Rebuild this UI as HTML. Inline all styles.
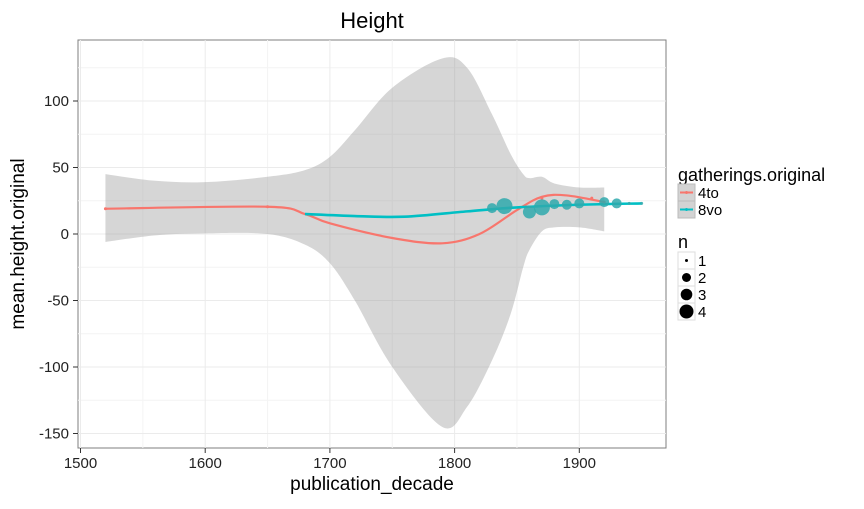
<!DOCTYPE html>
<html><head><meta charset="utf-8"><style>
body{margin:0;background:#fff;font-family:"Liberation Sans",sans-serif}
svg text{font-family:"Liberation Sans",sans-serif}
</style></head><body>
<svg id="chart" width="864" height="504">
<text x="372" y="28" font-size="22" text-anchor="middle">Height</text>
<g id="plot"></g>
<text x="372" y="490" font-size="19" text-anchor="middle">publication_decade</text>
<text transform="translate(24,244) rotate(-90)" font-size="19" text-anchor="middle">mean.height.original</text>
<g>
<text x="678" y="181" font-size="18">gatherings.original</text>
<rect x="678" y="184" width="17" height="17" fill="#d3d3d3" stroke="#bbb"/>
<line x1="680" y1="192.5" x2="693" y2="192.5" stroke="#F8766D" stroke-width="2"/><circle cx="686.5" cy="192.5" r="1.5" fill="#F8766D"/>
<text x="698" y="198" font-size="15">4to</text>
<rect x="678" y="201" width="17" height="17" fill="#d3d3d3" stroke="#bbb"/>
<line x1="680" y1="209.5" x2="693" y2="209.5" stroke="#00BFC4" stroke-width="2"/><circle cx="686.5" cy="209.5" r="1.5" fill="#00BFC4"/>
<text x="698" y="215" font-size="15">8vo</text>
</g>
<g>
<text x="678" y="248" font-size="18">n</text>
<rect x="678" y="252" width="17" height="17" fill="#fff" stroke="#ddd"/><circle cx="686.5" cy="260.5" r="1.5" fill="#000"/>
<text x="698" y="266" font-size="15">1</text>
<rect x="678" y="269" width="17" height="17" fill="#fff" stroke="#ddd"/><circle cx="686.5" cy="277.5" r="4.5" fill="#000"/>
<text x="698" y="283" font-size="15">2</text>
<rect x="678" y="286" width="17" height="17" fill="#fff" stroke="#ddd"/><circle cx="686.5" cy="294.5" r="5.8" fill="#000"/>
<text x="698" y="300" font-size="15">3</text>
<rect x="678" y="303" width="17" height="17" fill="#fff" stroke="#ddd"/><circle cx="686.5" cy="311.5" r="7" fill="#000"/>
<text x="698" y="317" font-size="15">4</text>
</g>
</svg>
<script>
const xTicks=[1500,1600,1700,1800,1900];
const yTicks=[100,50,0,-50,-100,-150];
const ribbonX=[1520,1560,1600,1650,1680,1700,1720,1750,1790,1810,1830,1845,1855,1860,1870,1880,1900,1920];
const ribbonUpper=[45,40,39,43,48,58,78,110,132,125,90,60,45,42,43,38,35,35];
const ribbonLower=[-6,-1,0.5,0,-8,-22,-50,-100,-145,-130,-95,-60,-25,-12,2,5,5,2];
const redX=[1520,1650,1680,1700,1750,1790,1820,1850,1870,1890,1920];
const redY=[19,20.5,15,8,-3,-7,0,18,28,29,24];
const tealLineX=[1680,1720,1760,1810,1850,1900,1950];
const tealLineY=[15,13.5,13,17,20,22,23];
const tealPtX=[1830,1840,1860,1870,1880,1890,1900,1920,1930,1940,1950];
const tealPtY=[19.5,21,16.5,20,22.5,22,23,24,23,23,23];
const tealPtN=[2,4,3,4,2,2,2,2,2,1,1];
const redPtX=[1520,1650,1870,1910,1920];
const redPtY=[19,20.5,27,27,24];
const X0=78,X1=666,Y0=40,Y1=448;
const sx=v=>80.5+(v-1500)*1.247;
const sy=v=>234-v*1.33;
const rad=n=>[0,1.5,5,6.5,8][n];
const NS="http://www.w3.org/2000/svg";
const g=document.getElementById('plot');
function el(t,a,p){const e=document.createElementNS(NS,t);for(const k in a)e.setAttribute(k,a[k]);(p||g).appendChild(e);return e;}
function spline(xs,ys){let p=[];for(let i=0;i<xs.length;i++)p.push([sx(xs[i]),sy(ys[i])]);
 let d='M'+p[0][0]+','+p[0][1];
 for(let i=0;i<p.length-1;i++){const a=p[i-1]||p[i],b=p[i],c=p[i+1],e=p[i+2]||c;
  d+=' C'+(b[0]+(c[0]-a[0])/6)+','+(b[1]+(c[1]-a[1])/6)+' '+(c[0]-(e[0]-b[0])/6)+','+(c[1]-(e[1]-b[1])/6)+' '+c[0]+','+c[1];}
 return d;}
const bg=el('rect',{x:X0,y:Y0,width:X1-X0,height:Y1-Y0,fill:'#fff',stroke:'#7f7f7f'});


for(let v=1550;v<1950;v+=100)el('line',{x1:sx(v),x2:sx(v),y1:Y0,y2:Y1,stroke:'#f4f4f4'});
for(let v=125;v>-175;v-=50)el('line',{x1:X0,x2:X1,y1:sy(v),y2:sy(v),stroke:'#f4f4f4'});
xTicks.forEach(v=>{el('line',{x1:sx(v),x2:sx(v),y1:Y0,y2:Y1,stroke:'#ebebeb'});el('line',{x1:sx(v),x2:sx(v),y1:Y1,y2:Y1+5,stroke:'#333'});
 const t=el('text',{x:sx(v),y:Y1+20,'font-size':15,'text-anchor':'middle',fill:'#222'});t.textContent=v;
 
 });
yTicks.forEach(v=>{el('line',{x1:X0,x2:X1,y1:sy(v),y2:sy(v),stroke:'#ebebeb'});el('line',{x1:X0-5,x2:X0,y1:sy(v),y2:sy(v),stroke:'#333'});
 const t=el('text',{x:X0-9,y:sy(v)+5,'font-size':15,'text-anchor':'end',fill:'#222'});t.textContent=v;
 
 });
let up=spline(ribbonX,ribbonUpper);
let rx=ribbonX.slice().reverse(),rl=ribbonLower.slice().reverse();
let lo=spline(rx,rl).replace('M','L');
const rib=el('path',{d:up+' '+lo+' Z',fill:'#999',opacity:0.4});


const rl1=el('path',{d:spline(redX,redY),fill:'none',stroke:'#F8766D','stroke-width':2.2});


const tl=el('path',{d:spline(tealLineX,tealLineY),fill:'none',stroke:'#00BFC4','stroke-width':2.6});


redPtX.forEach((v,i)=>{const c=el('circle',{cx:sx(v),cy:sy(redPtY[i]),r:1.5,fill:'#F8766D'});
 
 });
tealPtX.forEach((v,i)=>{const c=el('circle',{cx:sx(v),cy:sy(tealPtY[i]),r:rad(tealPtN[i]),fill:'#2fa9ad',opacity:0.85});
 
 });
</script>
</body></html>
